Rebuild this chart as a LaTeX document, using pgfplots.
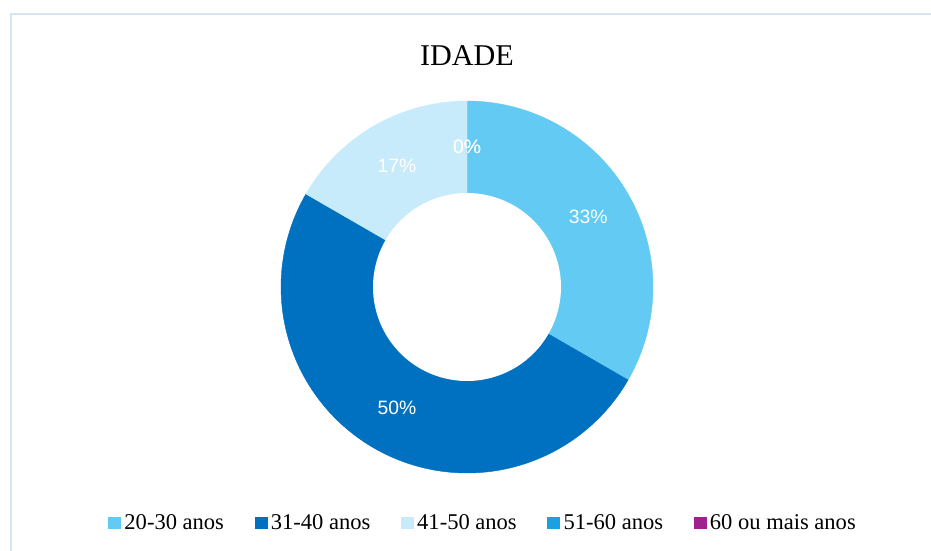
\documentclass[border=0pt]{standalone}
\usepackage{fontspec}
\setmainfont{Liberation Serif}
\newfontfamily\arial{Liberation Sans}
\usepackage{pgfplots}
\pgfplotsset{compat=1.18}
\definecolor{cA}{HTML}{63CAF4}
\definecolor{cB}{HTML}{0070C0}
\definecolor{cC}{HTML}{C7EBFA}
\definecolor{cD}{HTML}{1BA1E2}
\definecolor{cE}{HTML}{A0208E}
\definecolor{frame}{HTML}{D6E3F2}
\begin{document}
\begin{tikzpicture}
% percentages per age group
\def\vA{33.333}% 20-30 anos
\def\vB{50}% 31-40 anos
\def\vC{16.667}% 41-50 anos
\def\vD{0}% 51-60 anos
\def\vE{0}% 60 ou mais anos
\def\cx{467}\def\cy{287}\def\R{186}\def\r{94}\def\rl{140}
\pgfmathsetmacro\aA{90}
\pgfmathsetmacro\aB{\aA-3.6*\vA}
\pgfmathsetmacro\aC{\aB-3.6*\vB}
\pgfmathsetmacro\aD{\aC-3.6*\vC}
\pgfmathsetmacro\aE{\aD-3.6*\vD}
\pgfmathsetmacro\aF{\aE-3.6*\vE}
\begin{axis}[x=0.75pt,y=0.75pt,xmin=0,xmax=931,ymin=0,ymax=550,y dir=reverse,
  hide axis,clip=false,
  legend image code/.code={\fill[#1,draw=none] (0pt,-4.6pt) rectangle (9.75pt,4.6pt);},
  legend columns=5,
  legend style={at={(axis cs:108,523)},anchor=west,draw=none,fill=none,inner sep=0pt,
    font=\fontsize{16.9}{19}\selectfont,
    nodes={inner xsep=1.2pt,inner ysep=0pt},
    /tikz/every odd column/.append style={column sep=1.2pt},
    /tikz/every even column/.append style={column sep=21.8pt}},
]
\addplot[fill=cA,draw=cA,line width=0.3pt,domain=\aB:\aA,samples=90,variable=\t,forget plot]
  ({\cx+\R*cos(\t)},{\cy-\R*sin(\t)}) -- (axis cs:\cx,\cy) -- cycle;
\addplot[fill=cB,draw=cB,line width=0.3pt,domain=\aC:\aB,samples=120,variable=\t,forget plot]
  ({\cx+\R*cos(\t)},{\cy-\R*sin(\t)}) -- (axis cs:\cx,\cy) -- cycle;
\addplot[fill=cC,draw=cC,line width=0.3pt,domain=\aD:\aC,samples=60,variable=\t,forget plot]
  ({\cx+\R*cos(\t)},{\cy-\R*sin(\t)}) -- (axis cs:\cx,\cy) -- cycle;
\addplot[fill=white,draw=none,domain=0:360,samples=150,variable=\t,forget plot]
  ({\cx+\r*cos(\t)},{\cy-\r*sin(\t)}) -- cycle;
\addlegendimage{fill=cA}\addlegendentry{20-30 anos}
\addlegendimage{fill=cB}\addlegendentry{31-40 anos}
\addlegendimage{fill=cC}\addlegendentry{41-50 anos}
\addlegendimage{fill=cD}\addlegendentry{51-60 anos}
\addlegendimage{fill=cE}\addlegendentry{60 ou mais anos}
\tikzset{lab/.style={text=white,font=\arial\fontsize{14.5}{16}\selectfont,inner sep=0pt}}
\node[lab] at (axis cs:{\cx+\rl*cos((\aA+\aB)/2)},{\cy-\rl*sin((\aA+\aB)/2)}) {33\%};
\node[lab] at (axis cs:{\cx+\rl*cos((\aB+\aC)/2)},{\cy-\rl*sin((\aB+\aC)/2)}) {50\%};
\node[lab] at (axis cs:{\cx+\rl*cos((\aC+\aD)/2)},{\cy-\rl*sin((\aC+\aD)/2)}) {17\%};
\node[lab] at (axis cs:{\cx+\rl*cos((\aD+\aE)/2)},{\cy-\rl*sin((\aD+\aE)/2)}) {0\%};
\node[lab] at (axis cs:{\cx+\rl*cos((\aE+\aF)/2)},{\cy-\rl*sin((\aE+\aF)/2)}) {0\%};
\node[anchor=base,font=\fontsize{22.6}{26}\selectfont,inner sep=0pt] at (axis cs:467,65) {IDADE};
\draw[frame,line width=1.2pt] (axis cs:11,552) -- (axis cs:11,14) -- (axis cs:933,14);
\end{axis}
\pgfresetboundingbox
\path (0,0) rectangle (698.25pt,412.5pt);
\end{tikzpicture}
\end{document}
